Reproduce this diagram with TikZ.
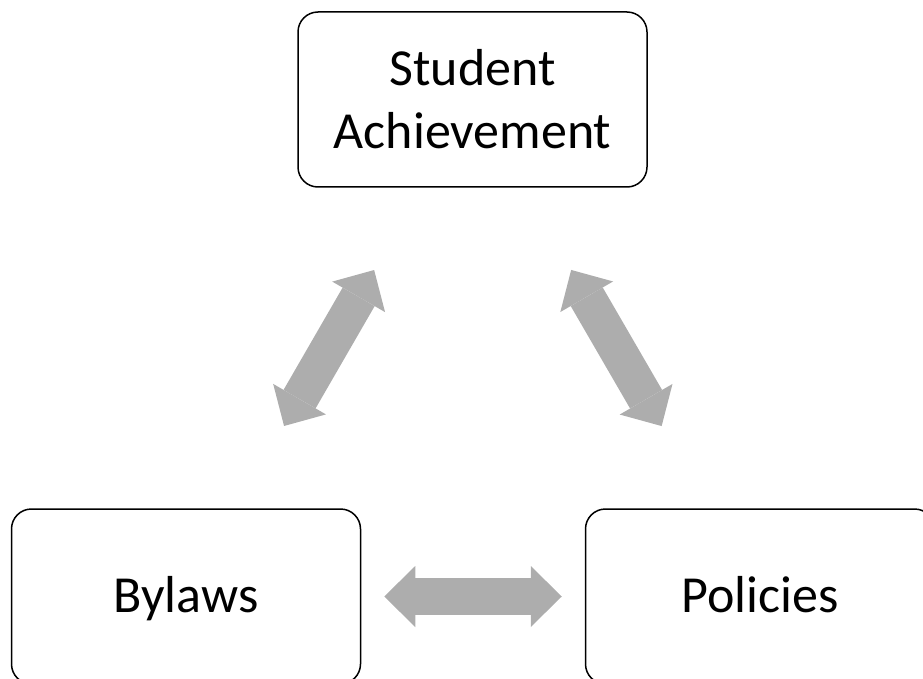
\documentclass[tikz,border=0pt]{standalone}
\usepackage{fontspec}
\setmainfont{Carlito}
\usepackage{tikz}
\usetikzlibrary{arrows.meta,positioning}
\usepackage{xcolor}

\definecolor{arrowgray}{RGB}{173,173,173}

\tikzset{
  topicbox/.style={draw=black, line width=1.5pt, rounded corners=20pt, minimum width=349pt, minimum height=175pt, inner sep=0pt, align=center, font=\fontsize{52}{63}\selectfont},
  onelinebox/.style={topicbox, text height=40pt, text depth=8pt},
  bigarrow/.style={draw=arrowgray, line width=37pt, {Triangle[length=31pt, width=61pt, line width=0pt]}-{Triangle[length=31pt, width=61pt, line width=0pt]}}
}

\begin{document}
\begin{tikzpicture}[x=1pt, y=-1pt]

% Frame
\useasboundingbox (0,0) rectangle (923,679);

% Boxes
\node[topicbox] (achieve) at (472.5, 99.5) {Student\\Achievement};
\node[onelinebox] (bylaws) at (186, 596.5) {Bylaws};
\node[onelinebox] (policies) at (760, 596.5) {Policies};

% Two-way arrows
\draw[bigarrow, shorten <=95pt, shorten >=95pt] (achieve) -- (bylaws);
\draw[bigarrow, shorten <=95pt, shorten >=95pt] (achieve) -- (policies);
\draw[bigarrow, shorten <=23pt, shorten >=23pt] (bylaws) -- (policies);

\end{tikzpicture}
\end{document}
